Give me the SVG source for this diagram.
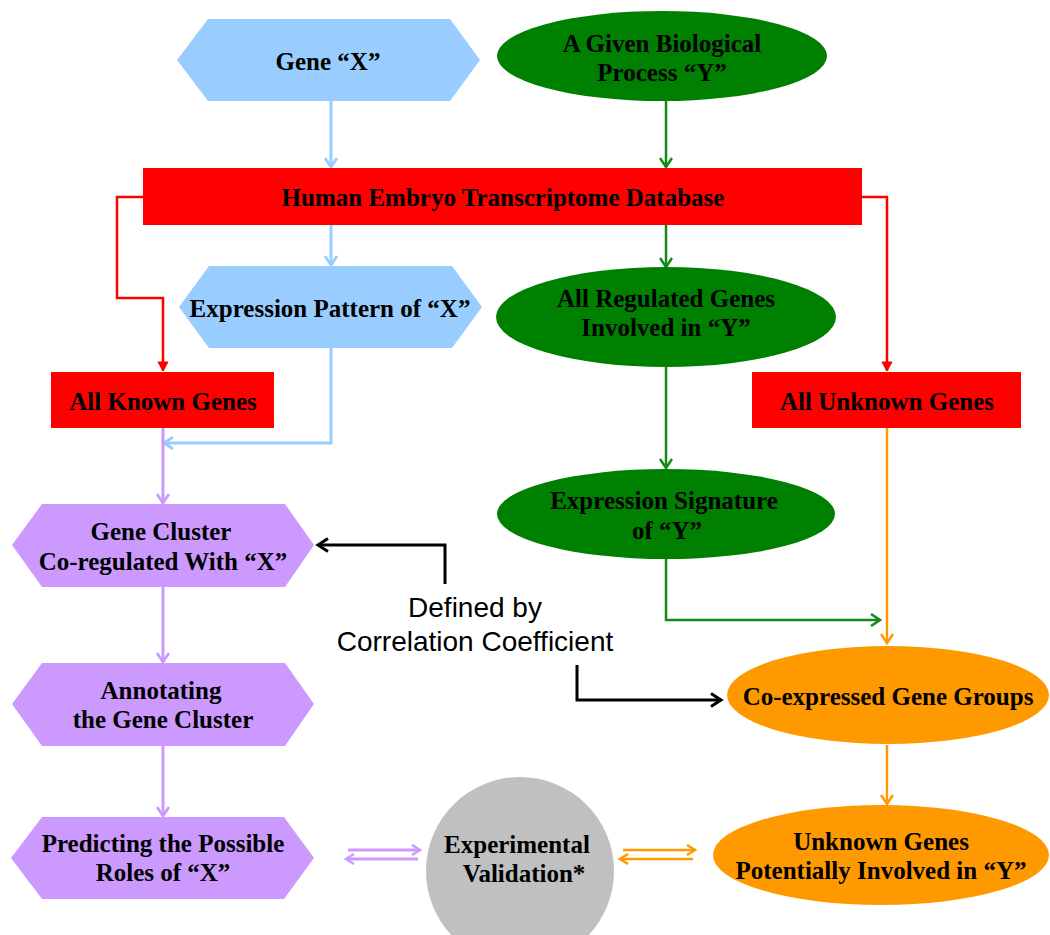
<svg xmlns="http://www.w3.org/2000/svg" width="1050" height="935" viewBox="0 0 1050 935">
<style>
.t{font-family:"Liberation Serif","Times New Roman",serif;font-weight:bold;font-size:25px;text-anchor:middle;fill:#000}
.n{font-family:"Liberation Sans",Arial,sans-serif;font-size:28px;text-anchor:middle;fill:#000}
.blue{fill:#99CCFF}.green{fill:#008000}.red{fill:#FF0000}.purple{fill:#CC99FF}.orange{fill:#FF9900}.gray{fill:#C0C0C0}
.c{fill:none;stroke-width:2.5}
.cb{stroke:#99CCFF;stroke-width:3}.cg{stroke:#138A13}.cr{stroke:#FF0000}.cp{stroke:#CC99FF;stroke-width:3}.co{stroke:#FF9900}.ck{stroke:#000;stroke-width:3}
</style>
<defs>
<marker id="ab" markerUnits="userSpaceOnUse" markerWidth="14" markerHeight="14" refX="10" refY="7" orient="auto" viewBox="0 0 14 14"><path d="M1,1 L10,7 L1,13" fill="none" stroke="#99CCFF" stroke-width="2.8"/></marker>
<marker id="ag" markerUnits="userSpaceOnUse" markerWidth="14" markerHeight="14" refX="10" refY="7" orient="auto" viewBox="0 0 14 14"><path d="M1,1 L10,7 L1,13" fill="none" stroke="#138A13" stroke-width="2.5"/></marker>
<marker id="ar" markerUnits="userSpaceOnUse" markerWidth="14" markerHeight="14" refX="10" refY="7" orient="auto" viewBox="0 0 14 14"><path d="M1,2 L10,7 L1,12 Z" fill="#FF0000" stroke="#FF0000" stroke-width="1"/></marker>
<marker id="ap" markerUnits="userSpaceOnUse" markerWidth="14" markerHeight="14" refX="10" refY="7" orient="auto" viewBox="0 0 14 14"><path d="M1,1 L10,7 L1,13" fill="none" stroke="#CC99FF" stroke-width="2.8"/></marker>
<marker id="ao" markerUnits="userSpaceOnUse" markerWidth="14" markerHeight="14" refX="10" refY="7" orient="auto" viewBox="0 0 14 14"><path d="M1,1 L10,7 L1,13" fill="none" stroke="#FF9900" stroke-width="2.5"/></marker>
<marker id="ak" markerUnits="userSpaceOnUse" markerWidth="16" markerHeight="16" refX="11" refY="8" orient="auto" viewBox="0 0 16 16"><path d="M1,1.5 L11,8 L1,14.5" fill="none" stroke="#000" stroke-width="3"/></marker>
<marker id="sp" markerUnits="userSpaceOnUse" markerWidth="12" markerHeight="12" refX="9" refY="6" orient="auto" viewBox="0 0 12 12"><path d="M1,1 L9,6 L1,11" fill="none" stroke="#CC99FF" stroke-width="2.5"/></marker>
<marker id="so" markerUnits="userSpaceOnUse" markerWidth="12" markerHeight="12" refX="9" refY="6" orient="auto" viewBox="0 0 12 12"><path d="M1,1 L9,6 L1,11" fill="none" stroke="#FF9900" stroke-width="2.5"/></marker>
</defs>

<g id="connectors">
<path class="c cb" d="M331,101 V167" marker-end="url(#ab)"/>
<path class="c cg" d="M666,101 V167" marker-end="url(#ag)"/>
<path class="c cb" d="M331,225 V265" marker-end="url(#ab)"/>
<path class="c cg" d="M666,225 V267" marker-end="url(#ag)"/>
<path class="c cr" d="M143,197 H117 V298 H163 V371" marker-end="url(#ar)"/>
<path class="c cr" d="M862,197 H887 V371" marker-end="url(#ar)"/>
<path class="c cb" d="M331,348 V443 H164" marker-end="url(#ab)"/>
<path class="c cp" d="M163,428 V503" marker-end="url(#ap)"/>
<path class="c cg" d="M666,367 V468" marker-end="url(#ag)"/>
<path class="c cp" d="M163,587 V662" marker-end="url(#ap)"/>
<path class="c cp" d="M163,746 V816" marker-end="url(#ap)"/>
<path class="c co" d="M887,428 V643" marker-end="url(#ao)"/>
<path class="c cg" d="M666,559 V620 H880" marker-end="url(#ag)"/>
<path class="c ck" d="M445,584 V545 H318" marker-end="url(#ak)"/>
<path class="c ck" d="M577,665 V700 H721" marker-end="url(#ak)"/>
<path class="c co" d="M887,745 V804" marker-end="url(#ao)"/>
<path class="c cp" d="M348,850 H420" marker-end="url(#sp)"/>
<path class="c cp" d="M418,859 H346" marker-end="url(#sp)"/>
<path class="c co" d="M623,850 H695" marker-end="url(#so)"/>
<path class="c co" d="M693,859 H620" marker-end="url(#so)"/>
</g>

<g id="gene-x"><path class="blue" d="M177,60 L208,19 L450,19 L480,60 L450,101 L208,101 Z"/><text class="t" x="328" y="70">Gene “X”</text></g>
<g id="process-y"><ellipse class="green" cx="662" cy="56" rx="165" ry="45"/><text class="t" x="662" y="52">A Given Biological</text><text class="t" x="662" y="81">Process “Y”</text></g>
<g id="database"><rect class="red" x="143" y="168" width="719" height="57"/><text class="t" x="503" y="206">Human Embryo Transcriptome Database</text></g>
<g id="expression-pattern"><path class="blue" d="M179,307 L209,266 L452,266 L482,307 L452,348 L209,348 Z"/><text class="t" x="330" y="317">Expression Pattern of “X”</text></g>
<g id="all-regulated"><ellipse class="green" cx="666" cy="317" rx="170" ry="50"/><text class="t" x="666" y="307">All Regulated Genes</text><text class="t" x="666" y="336">Involved in “Y”</text></g>
<g id="all-known"><rect class="red" x="51" y="372" width="223" height="56"/><text class="t" x="163" y="410">All Known Genes</text></g>
<g id="all-unknown"><rect class="red" x="752" y="372" width="269" height="56"/><text class="t" x="887" y="410">All Unknown Genes</text></g>
<g id="expression-signature"><ellipse class="green" cx="666" cy="514" rx="169" ry="45"/><text class="t" x="664" y="509">Expression Signature</text><text class="t" x="667" y="539">of “Y”</text></g>
<g id="gene-cluster"><path class="purple" d="M12,545 L42,504 L285,504 L314,545 L285,587 L42,587 Z"/><text class="t" x="161" y="540">Gene Cluster</text><text class="t" x="163" y="570">Co-regulated With “X”</text></g>
<g id="defined-by"><text class="n" x="475" y="617">Defined by</text><text class="n" x="475" y="651">Correlation Coefficient</text></g>
<g id="co-expressed"><ellipse class="orange" cx="888" cy="695" rx="161" ry="49"/><text class="t" x="888" y="705">Co-expressed Gene Groups</text></g>
<g id="annotating"><path class="purple" d="M12,704 L42,663 L285,663 L314,704 L285,746 L42,746 Z"/><text class="t" x="161" y="699">Annotating</text><text class="t" x="163" y="728">the Gene Cluster</text></g>
<g id="predicting"><path class="purple" d="M11,858 L42,817 L284,817 L314,858 L284,899 L42,899 Z"/><text class="t" x="163" y="852">Predicting the Possible</text><text class="t" x="163" y="881">Roles of “X”</text></g>
<g id="experimental-validation"><circle class="gray" cx="520" cy="871" r="94"/><text class="t" x="517" y="853">Experimental</text><text class="t" x="524" y="882">Validation*</text></g>
<g id="unknown-genes-y"><ellipse class="orange" cx="881" cy="855" rx="168" ry="50"/><text class="t" x="881" y="850">Unknown Genes</text><text class="t" x="881" y="879">Potentially Involved in “Y”</text></g>
</svg>
